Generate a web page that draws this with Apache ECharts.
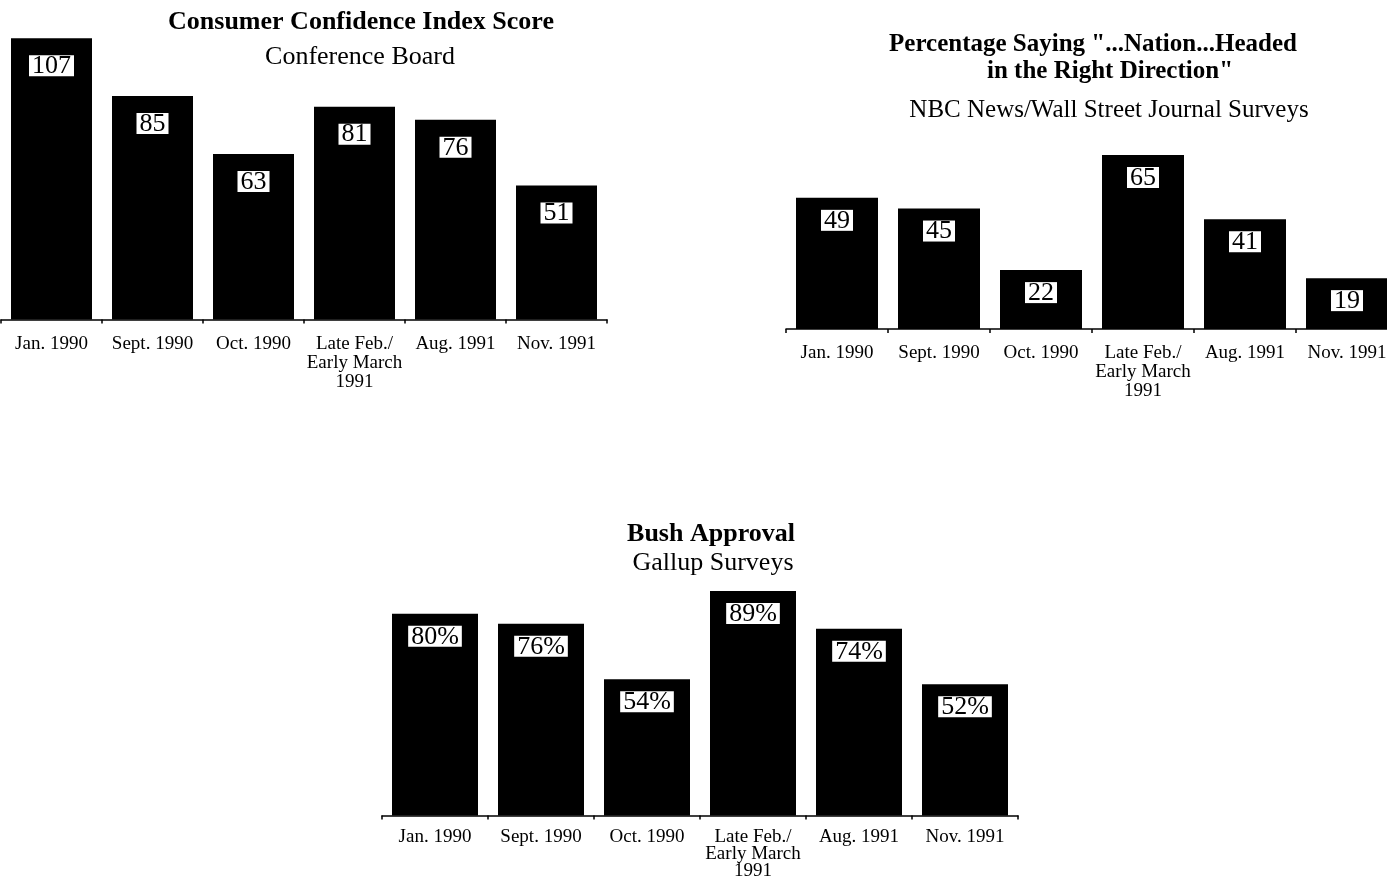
<!DOCTYPE html>
<html>
<head>
<meta charset="utf-8">
<script src="https://cdn.jsdelivr.net/npm/echarts@6/dist/echarts.min.js"></script>
<style>
html,body{margin:0;padding:0;background:#fff;}
#main{width:1387px;height:878px;}
</style>
</head>
<body>
<div id="main"></div>
<script>
var categories = ['Jan. 1990', 'Sept. 1990', 'Oct. 1990', 'Late Feb./\nEarly March\n1991', 'Aug. 1991', 'Nov. 1991'];
var confidenceIndex = [107, 85, 63, 81, 76, 51];
var rightDirection = [49, 45, 22, 65, 41, 19];
var bushApproval = [80, 76, 54, 89, 74, 52];

var FONT = '"Liberation Serif", "Times New Roman", serif';

function xAx(gridIndex, margin, lh) {
  return {
    type: 'category', gridIndex: gridIndex, data: categories, boundaryGap: true,
    axisLine: { show: true, lineStyle: { color: '#000', width: 1.5 } },
    axisTick: { show: true, interval: 0, length: 4, lineStyle: { color: '#000', width: 1.5 } },
    axisLabel: { interval: 0, margin: margin, color: '#000', fontFamily: FONT, fontSize: 19, lineHeight: lh }
  };
}
function yAx(gridIndex) {
  return {
    type: 'value', gridIndex: gridIndex, min: 0, max: 'dataMax',
    axisLine: { show: false }, axisTick: { show: false }, axisLabel: { show: false }, splitLine: { show: false }
  };
}
function barSeries(idx, data, width, dist, suffix) {
  return {
    type: 'bar', xAxisIndex: idx, yAxisIndex: idx, data: data, barWidth: width,
    itemStyle: { color: '#000' },
    label: {
      show: true, position: 'insideTop', distance: dist,
      formatter: function (p) { return p.value + suffix; },
      color: '#000', backgroundColor: '#fff', fontFamily: FONT, fontSize: 26,
      lineHeight: 20, padding: [1, 3, 0, 3]
    }
  };
}
function txt(x, y, s, size, bold) {
  return {
    type: 'text', x: x, y: y,
    style: { text: s, fill: '#000', font: (bold ? 'bold ' : '') + size + 'px ' + FONT, align: 'center', verticalAlign: 'middle' }
  };
}

var chart = echarts.init(document.getElementById('main'), null, { renderer: 'canvas' });
chart.setOption({
  backgroundColor: '#fff',
  animation: false,
  grid: [
    { left: 1, width: 606, top: 38.3, height: 281.2, outerBoundsMode: 'none', containLabel: false },
    { left: 786, width: 612, top: 155, height: 174, outerBoundsMode: 'none', containLabel: false },
    { left: 382, width: 636, top: 591, height: 224.5, outerBoundsMode: 'none', containLabel: false }
  ],
  xAxis: [xAx(0, 15, 19), xAx(1, 15, 19), xAx(2, 13, 17)],
  yAxis: [yAx(0), yAx(1), yAx(2)],
  series: [
    barSeries(0, confidenceIndex, 81, 17, ''),
    barSeries(1, rightDirection, 82, 12, ''),
    barSeries(2, bushApproval, 86, 12, '%')
  ],
  graphic: [
    txt(361, 22, 'Consumer Confidence Index Score', 26, true),
    txt(360, 57, 'Conference Board', 26, false),
    txt(1093, 45, 'Percentage Saying "...Nation...Headed', 25, true),
    txt(1110, 72, 'in the Right Direction"', 25, true),
    txt(1109, 110, 'NBC News/Wall Street Journal Surveys', 25, false),
    txt(711, 534, 'Bush Approval', 26, true),
    txt(713, 563, 'Gallup Surveys', 26, false)
  ]
});
</script>
</body>
</html>
